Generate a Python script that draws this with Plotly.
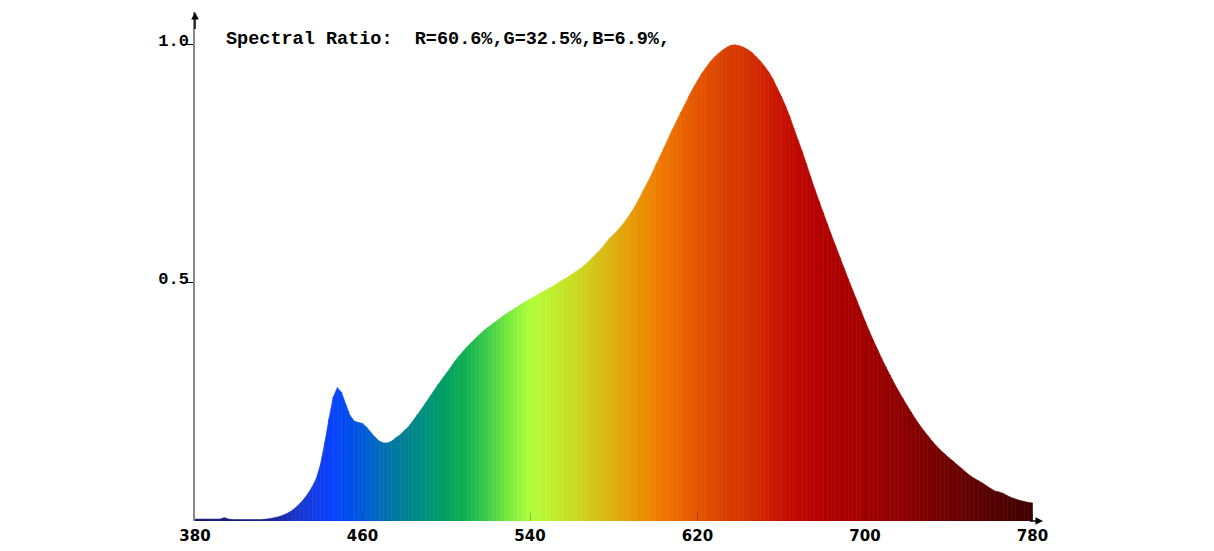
import plotly.graph_objects as go

# ---- data ----
wavelength = list(range(380, 782, 2))  # nm, 2-nm steps
intensity = [
    0.004, 0.004, 0.004, 0.004, 0.004, 0.004, 0.004, 0.007, 0.004, 0.003,  # 380-398
    0.003, 0.003, 0.003, 0.003, 0.003, 0.003, 0.003, 0.004, 0.005, 0.007,  # 400-418
    0.009, 0.012, 0.016, 0.021, 0.028, 0.036, 0.046, 0.058, 0.072, 0.090,  # 420-438
    0.120, 0.165, 0.215, 0.260, 0.280, 0.270, 0.245, 0.222, 0.210, 0.207,  # 440-458
    0.205, 0.197, 0.186, 0.176, 0.168, 0.164, 0.164, 0.168, 0.175, 0.181,  # 460-478
    0.190, 0.198, 0.210, 0.222, 0.234, 0.247, 0.260, 0.273, 0.286, 0.298,  # 480-498
    0.310, 0.322, 0.335, 0.346, 0.356, 0.366, 0.375, 0.384, 0.392, 0.400,  # 500-518
    0.407, 0.414, 0.420, 0.427, 0.433, 0.439, 0.444, 0.450, 0.456, 0.461,  # 520-538
    0.466, 0.471, 0.476, 0.481, 0.486, 0.491, 0.496, 0.502, 0.507, 0.512,  # 540-558
    0.518, 0.524, 0.530, 0.537, 0.545, 0.554, 0.563, 0.572, 0.583, 0.594,  # 560-578
    0.602, 0.611, 0.621, 0.633, 0.646, 0.660, 0.676, 0.693, 0.710, 0.727,  # 580-598
    0.747, 0.765, 0.784, 0.803, 0.822, 0.840, 0.858, 0.875, 0.893, 0.910,  # 600-618
    0.925, 0.940, 0.952, 0.964, 0.974, 0.982, 0.989, 0.995, 0.999, 1.000,  # 620-638
    0.998, 0.995, 0.990, 0.984, 0.975, 0.966, 0.955, 0.943, 0.928, 0.910,  # 640-658
    0.892, 0.872, 0.850, 0.825, 0.800, 0.776, 0.750, 0.723, 0.697, 0.672,  # 660-678
    0.648, 0.624, 0.600, 0.577, 0.554, 0.531, 0.508, 0.486, 0.464, 0.442,  # 680-698
    0.420, 0.399, 0.379, 0.360, 0.341, 0.323, 0.306, 0.289, 0.273, 0.258,  # 700-718
    0.243, 0.229, 0.215, 0.202, 0.190, 0.179, 0.168, 0.158, 0.149, 0.141,  # 720-738
    0.133, 0.126, 0.118, 0.111, 0.103, 0.096, 0.090, 0.085, 0.080, 0.074,  # 740-758
    0.068, 0.063, 0.061, 0.058, 0.053, 0.049, 0.046, 0.043, 0.041, 0.039,  # 760-778
    0.038,                                                                  # 780
]
x_tick_vals = [380, 460, 540, 620, 700, 780]
x_tick_text = ["380", "460", "540", "620", "700", "780"]
y_tick_vals = [0.5, 1.0]
y_tick_text = ["0.5", "1.0"]
title_text = "Spectral Ratio:\u00a0\u00a0R=60.6%,G=32.5%,B=6.9%,"

# ---- style: wavelength colour stops ----
color_stops = [
    (380, (20, 20, 110)), (415, (25, 35, 150)), (430, (25, 55, 205)),
    (445, (10, 65, 255)), (455, (0, 80, 235)), (465, (0, 100, 200)),
    (475, (0, 120, 160)), (490, (0, 145, 125)), (500, (0, 160, 95)),
    (510, (20, 178, 80)), (520, (65, 205, 75)), (530, (120, 235, 60)),
    (540, (175, 255, 60)), (550, (190, 240, 45)), (560, (200, 222, 35)),
    (570, (210, 200, 25)), (580, (222, 175, 15)), (590, (232, 152, 5)),
    (600, (240, 128, 0)), (610, (236, 106, 0)), (620, (228, 84, 0)),
    (635, (216, 62, 0)), (650, (208, 40, 0)), (660, (200, 18, 0)),
    (675, (182, 2, 0)), (700, (162, 0, 0)), (720, (138, 0, 0)),
    (740, (112, 0, 0)), (760, (86, 0, 0)), (780, (62, 0, 0)),
]


def wl_color(w):
    for (w0, c0), (w1, c1) in zip(color_stops[:-1], color_stops[1:]):
        if w0 <= w <= w1:
            t = (w - w0) / (w1 - w0)
            r, g, b = (round(a + (bb - a) * t) for a, bb in zip(c0, c1))
            return f"rgb({r},{g},{b})"
    return "rgb(62,0,0)"


fig = go.Figure()
# one filled strip per wavelength interval, coloured by its wavelength
for i in range(len(wavelength) - 1):
    w0, w1 = wavelength[i], wavelength[i + 1]
    v0, v1 = intensity[i], intensity[i + 1]
    c = wl_color((w0 + w1) / 2)
    fig.add_trace(go.Scatter(
        x=[w0, w0, w1, w1, w0], y=[0, v0, v1, 0, 0],
        mode="lines", fill="toself", fillcolor=c,
        line=dict(width=0.6, color=c),
        hoverinfo="skip", showlegend=False,
    ))

# the page has an 8 px body margin, so margins are reduced by 8 px on left/top
ML, MR, MT, MB = 187, 179, 4, 38
fig.update_layout(
    width=1214, height=551,
    margin=dict(l=ML, r=MR, t=MT, b=MB, autoexpand=False),
    paper_bgcolor="white", plot_bgcolor="white",
    showlegend=False,
    xaxis=dict(
        range=[380, 785], showgrid=False, zeroline=False, automargin=False,
        showline=False,
        tickmode="array", tickvals=x_tick_vals, ticktext=x_tick_text,
        ticks="inside", ticklen=8, tickwidth=1, tickcolor="rgba(0,0,0,0.25)",
        tickfont=dict(family="DejaVu Sans", size=15, color="black", weight="bold"),
        ticklabelstandoff=4,
    ),
    yaxis=dict(
        range=[0, 1.069], showgrid=False, zeroline=False, automargin=False,
        showline=True, linecolor="#888888", linewidth=1.5,
        tickmode="array", tickvals=y_tick_vals, ticktext=y_tick_text,
        ticks="outside", ticklen=7, tickwidth=1, tickcolor="black",
        tickfont=dict(family="Liberation Mono", size=17, color="black", weight="bold"),
        ticklabelshift=-5, ticklabelstandoff=-6,
    ),
)

# arrow heads for the axes
fig.add_annotation(x=380, y=1.069, ax=380, ay=1.03, xref="x", yref="y", axref="x", ayref="y",
                   text="", showarrow=True, arrowhead=2, arrowsize=1, arrowwidth=1.5,
                   arrowcolor="black")
fig.add_annotation(x=785, y=0, ax=778, ay=0, xref="x", yref="y", axref="x", ayref="y",
                   text="", showarrow=True, arrowhead=2, arrowsize=1, arrowwidth=1.5,
                   arrowcolor="black")

plot_w = 1214 - ML - MR
plot_h = 551 - MT - MB
fig.add_annotation(x=(224 - 8 - ML) / plot_w, y=(551 + 8 - MB - 40) / plot_h,
                   xref="paper", yref="paper", text=title_text, showarrow=False,
                   xanchor="left", yanchor="middle",
                   font=dict(family="Liberation Mono", size=18.5, color="black", weight="bold"))

fig.write_html("out.html")
